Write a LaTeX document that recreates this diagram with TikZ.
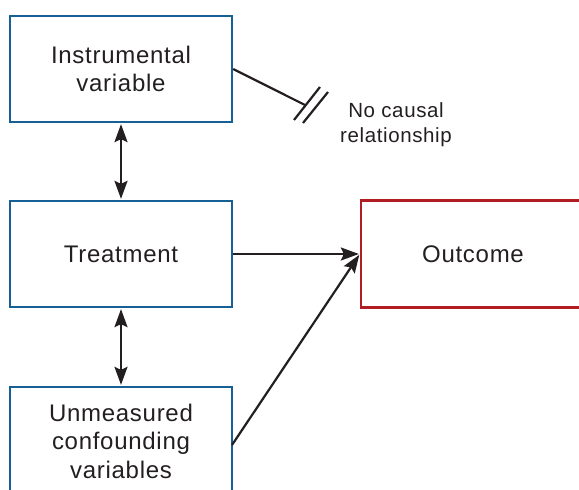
\documentclass[tikz,border=0pt]{standalone}
\usepackage{fontspec}
\setmainfont{Liberation Sans}[LetterSpace=3]
\usetikzlibrary{arrows.meta}
\definecolor{boxblue}{RGB}{22,96,150}
\definecolor{boxred}{RGB}{176,30,36}
\definecolor{txt}{RGB}{35,31,32}
\begin{document}
\begin{tikzpicture}[x=1pt,y=-1pt,
  box/.style={draw=boxblue, line width=2.3pt, text=txt, align=center, inner sep=0pt,
    minimum width=222pt, minimum height=106pt, font=\fontsize{24}{28.5}\selectfont},
  outbox/.style={box, draw=boxred},
  conn/.style={draw=txt, line width=2.2pt},
  tip/.style={},
  dbl/.style={conn, {Stealth[length=18pt,width=13pt,inset=3pt]}-{Stealth[length=18pt,width=13pt,inset=3pt]}, shorten <=1pt, shorten >=1pt},
  one/.style={conn, -{Stealth[length=18pt,width=13pt,inset=3pt]}, shorten >=1pt},
  lbl/.style={text=txt, align=center, inner sep=0pt, font=\fontsize{20.5}{25}\selectfont}]
\useasboundingbox (0,0) rectangle (579,490);
\clip (0,0) rectangle (579,490);
\node[box] (iv) at (121,69) {Instrumental\\variable};
\node[box] (tr) at (121,254) {Treatment};
\node[box, minimum height=108pt] (uc) at (121,441) {Unmeasured\\confounding\\variables};
\node[outbox, minimum width=224pt, minimum height=107pt] (oc) at (473,254) {Outcome};
\coordinate (nc) at (305,105);
\draw[conn] (iv.east) -- (nc);
\draw[conn] (294,120) -- (320,87);
\draw[conn] (303,123) -- (328,92);
\node[lbl] (ncl) at (396,125) {No causal\\relationship};
\draw[dbl] (iv.south) -- (tr.north);
\draw[dbl] (tr.south) -- (uc.north);
\draw[one] (tr.east) -- (oc.west);
\coordinate (ucr) at (232,445);
\draw[one] (ucr) -- (oc.west);
\end{tikzpicture}
\end{document}
